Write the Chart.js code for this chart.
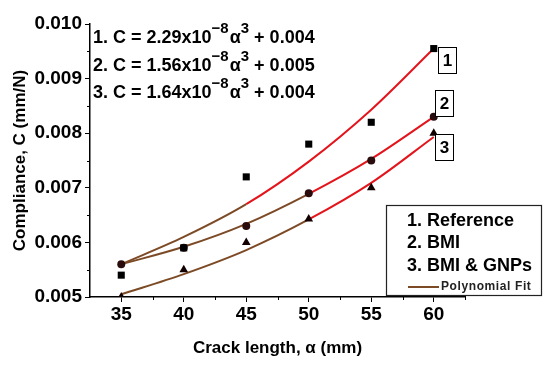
<!DOCTYPE html>
<html>
<head>
<meta charset="utf-8">
<script src="https://cdn.jsdelivr.net/npm/chart.js@4.4.1/dist/chart.umd.min.js"></script>
<style>
  html, body { margin: 0; padding: 0; background: #fff; }
  #wrap { width: 550px; height: 366px; position: relative; }
</style>
</head>
<body>
<div id="wrap"><canvas id="c"></canvas></div>
<script>
/* ==============================
   DATA
============================== */
const crackLength = [35, 40, 45, 50, 55, 60];

// measured compliance (mm/N)
const refC = [0.0054, 0.0059, 0.0072, 0.0078, 0.0082, 0.00955];
const bmiC = [0.0056, 0.0059, 0.0063, 0.0069, 0.0075, 0.0083];
const gnpC = [0.0050, 0.0055, 0.0060, 0.00643, 0.0070, 0.0080];

// polynomial fit curves
const fitRef = [0.0056, 0.0061, 0.0067, 0.00748, 0.00843, 0.00955];
const fitBmi = [0.0056, 0.00592, 0.00634, 0.00689, 0.00753, 0.0083];
const fitGnp = [0.00505, 0.00542, 0.00586, 0.00642, 0.00709, 0.00793];

const xTicks = [35, 40, 45, 50, 55, 60];
const xMinor = [37.5, 42.5, 47.5, 52.5, 57.5, 62.5];
const yTicks = [0.005, 0.006, 0.007, 0.008, 0.009, 0.010];
const yMinor = [0.0055, 0.0065, 0.0075, 0.0085, 0.0095];

const equations = [
  ["1. C = 2.29x10", "\u22128", "\u03b1", "3", " + 0.004"],
  ["2. C = 1.56x10", "\u22128", "\u03b1", "3", " + 0.005"],
  ["3. C = 1.64x10", "\u22128", "\u03b1", "3", " + 0.004"],
];
const legendItems = ["1. Reference", "2. BMI", "3. BMI & GNPs"];
const curveTags = ["1", "2", "3"];

const RED = "#e3141b";
const BROWN = "#7d4a26";
const FONT = "'Liberation Sans', Arial, sans-serif";

const pts = (ys) => crackLength.map((x, i) => ({ x: x, y: ys[i] }));

// fit line: brownish on the lower part, red further up (as in the figure)
function fitSet(ys, brownUntil) {
  return {
    type: "line",
    data: pts(ys),
    borderColor: RED,
    borderWidth: 2,
    pointRadius: 0,
    cubicInterpolationMode: "monotone",
    segment: {
      borderColor: (ctx) => (ctx.p1.parsed.x <= brownUntil ? BROWN : RED),
    },
  };
}

function markSet(ys, style, radius, color) {
  return {
    type: "scatter",
    data: pts(ys),
    pointStyle: style,
    pointRadius: radius,
    pointBackgroundColor: color,
    pointBorderColor: color,
    pointBorderWidth: 0,
    showLine: false,
  };
}

/* ==============================
   EXTRA DRAWING (minor ticks, text)
============================== */
const extras = {
  id: "extras",
  afterDraw(chart) {
    const ctx = chart.ctx;
    const xs = chart.scales.x;
    const ys = chart.scales.y;
    const area = chart.chartArea;
    ctx.save();

    // minor ticks
    ctx.strokeStyle = "#000";
    ctx.lineWidth = 1;
    ctx.beginPath();
    xMinor.forEach((v) => {
      const px = Math.round(xs.getPixelForValue(v)) + 0.5;
      ctx.moveTo(px, area.bottom);
      ctx.lineTo(px, area.bottom + 3);
    });
    yMinor.forEach((v) => {
      const py = Math.round(ys.getPixelForValue(v)) + 0.5;
      ctx.moveTo(area.left, py);
      ctx.lineTo(area.left - 3, py);
    });
    ctx.stroke();

    // equations
    ctx.fillStyle = "#000";
    ctx.textBaseline = "alphabetic";
    const bases = [43, 71, 98];
    equations.forEach((eq, i) => {
      let x = 93;
      const y = bases[i];
      ctx.font = "bold 18px " + FONT;
      ctx.fillText(eq[0], x, y);
      x += ctx.measureText(eq[0]).width;
      ctx.font = "bold 15px " + FONT;
      ctx.fillText(eq[1], x, y - 10);
      x += ctx.measureText(eq[1]).width + 1;
      ctx.font = "bold 18px " + FONT;
      ctx.fillText(eq[2], x, y);
      x += ctx.measureText(eq[2]).width;
      ctx.font = "bold 15px " + FONT;
      ctx.fillText(eq[3], x, y - 10);
      x += ctx.measureText(eq[3]).width;
      ctx.font = "bold 18px " + FONT;
      ctx.fillText(eq[4], x, y);
    });

    // numbered tags next to the curve ends
    const tagBoxes = [
      [438, 47],
      [435, 90],
      [435, 134],
    ];
    ctx.font = "bold 17px " + FONT;
    ctx.textAlign = "center";
    ctx.textBaseline = "middle";
    ctx.lineWidth = 1;
    ctx.strokeStyle = "#000";
    tagBoxes.forEach((b, i) => {
      ctx.fillStyle = "#fff";
      ctx.fillRect(b[0], b[1], 18, 26);
      ctx.strokeRect(b[0] + 0.5, b[1] + 0.5, 18, 26);
      ctx.fillStyle = "#000";
      ctx.fillText(curveTags[i], b[0] + 9.5, b[1] + 14);
    });

    // legend box
    ctx.fillStyle = "#fff";
    ctx.fillRect(386, 205, 155, 90);
    ctx.strokeStyle = "#222";
    ctx.lineWidth = 1.2;
    ctx.strokeRect(386.5, 205.5, 155, 90);
    ctx.fillStyle = "#000";
    ctx.textAlign = "left";
    ctx.font = "bold 18px " + FONT;
    [221, 243, 266].forEach((y, i) => ctx.fillText(legendItems[i], 407, y));
    ctx.strokeStyle = BROWN;
    ctx.lineWidth = 2;
    ctx.beginPath();
    ctx.moveTo(408, 287);
    ctx.lineTo(439, 287);
    ctx.stroke();
    ctx.fillStyle = "#222";
    ctx.font = "bold 12px " + FONT;
    ctx.letterSpacing = "0.6px";
    ctx.fillText("Polynomial Fit", 441, 287);

    ctx.restore();
  },
};

/* ==============================
   CHART
============================== */
new Chart(document.getElementById("c"), {
  data: {
    datasets: [
      markSet(refC, "rect", 5, "#000"),
      markSet(bmiC, "circle", 4, "#2a0c0c"),
      markSet(gnpC, "triangle", 5, "#120000"),
      fitSet(fitRef, 47),
      fitSet(fitBmi, 50),
      fitSet(fitGnp, 50),
    ],
  },
  options: {
    responsive: true,
    maintainAspectRatio: false,
    animation: false,
    layout: { padding: { left: 4, right: 85, top: 24, bottom: 0 } },
    plugins: {
      legend: { display: false },
      tooltip: { enabled: false },
    },
    scales: {
      x: {
        type: "linear",
        min: 32.5,
        max: 62.5,
        afterBuildTicks: (s) => {
          s.ticks = xTicks.map((v) => ({ value: v }));
        },
        afterFit: (s) => {
          s.height = 69;
        },
        grid: {
          drawOnChartArea: false,
          drawTicks: true,
          tickLength: 5,
          color: "#000",
        },
        border: { display: true, color: "#000", width: 1.5 },
        ticks: {
          color: "#000",
          padding: 1,
          maxRotation: 0,
          font: { family: FONT, size: 19, weight: "bold" },
        },
        title: {
          display: true,
          text: "Crack length, \u03b1 (mm)",
          color: "#000",
          padding: { top: 0, bottom: 7 },
          font: { family: FONT, size: 17, weight: "bold" },
        },
      },
      y: {
        type: "linear",
        min: 0.005,
        max: 0.01,
        afterBuildTicks: (s) => {
          s.ticks = yTicks.map((v) => ({ value: v }));
        },
        afterFit: (s) => {
          s.width = 86;
        },
        grid: {
          drawOnChartArea: false,
          drawTicks: true,
          tickLength: 5,
          color: "#000",
        },
        border: { display: true, color: "#000", width: 1.5 },
        ticks: {
          color: "#000",
          padding: 3,
          callback: (v) => v.toFixed(3),
          font: { family: FONT, size: 19, weight: "bold" },
        },
        title: {
          display: true,
          text: "Compliance, C (mm/N)",
          color: "#000",
          padding: { top: 6, bottom: 2 },
          font: { family: FONT, size: 17, weight: "bold" },
        },
      },
    },
  },
  plugins: [extras],
});
</script>
</body>
</html>
